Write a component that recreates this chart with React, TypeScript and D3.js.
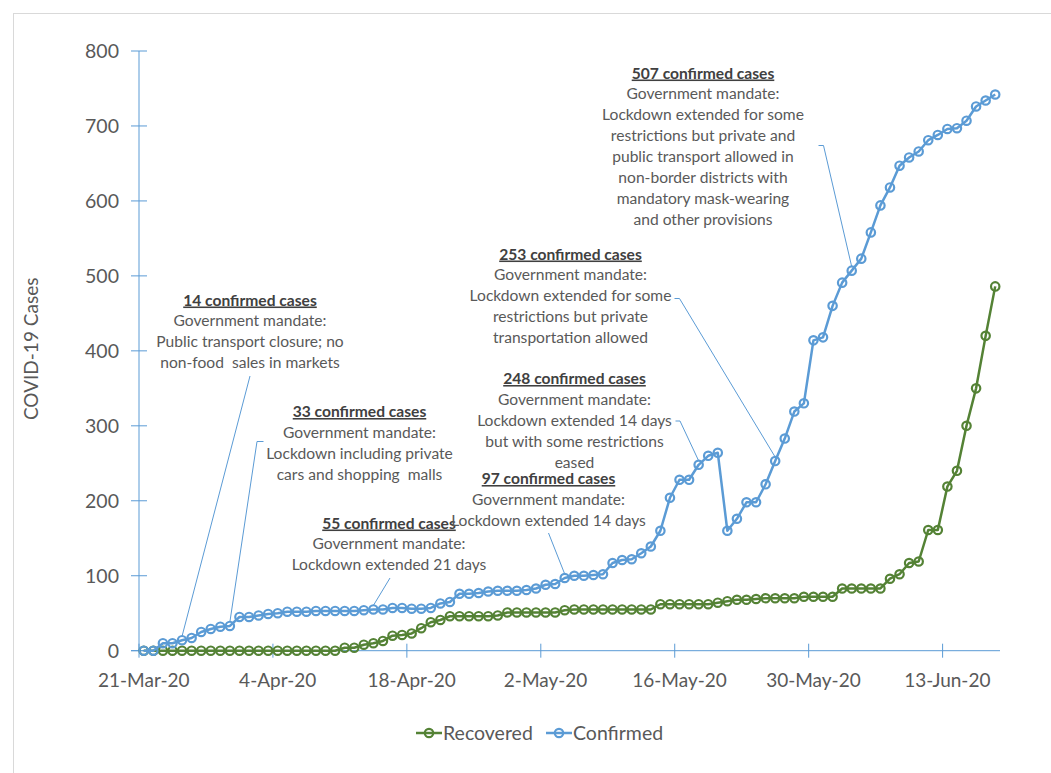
import React from 'react';
import * as d3 from 'd3';

// ---------- data ----------
const START_DATE = '2020-03-21';
const DAY_COUNT = 90;
const TICK_EVERY = 14;

const seriesNames = ['Recovered', 'Confirmed'];

const confirmed = [
  0, 0, 10, 10, 14, 17, 25, 29, 32, 33,
  45, 45, 47, 49, 50, 52, 52, 52, 53, 53,
  53, 53, 53, 54, 55, 55, 57, 57, 56, 56,
  57, 63, 65, 76, 76, 77, 79, 80, 80, 80,
  81, 83, 88, 89, 97, 100, 100, 101, 102, 117,
  121, 122, 130, 139, 160, 204, 228, 228, 248, 260,
  264, 160, 176, 198, 198, 222, 253, 283, 319, 330,
  414, 418, 460, 491, 507, 523, 558, 594, 618, 647,
  658, 666, 681, 688, 696, 697, 707, 726, 734, 742,
];

const recovered = [
  0, 0, 0, 0, 0, 0, 0, 0, 0, 0,
  0, 0, 0, 0, 0, 0, 0, 0, 0, 0,
  0, 4, 4, 8, 10, 13, 20, 21, 23, 30,
  38, 41, 46, 46, 46, 46, 46, 47, 51, 51,
  51, 51, 51, 51, 54, 55, 55, 55, 55, 55,
  55, 55, 55, 55, 62, 62, 62, 62, 62, 62,
  64, 66, 68, 68, 69, 70, 70, 70, 70, 72,
  72, 72, 72, 83, 83, 83, 83, 83, 96, 102,
  117, 119, 161, 161, 219, 240, 300, 350, 420, 486,
];

const yTicks = [0, 100, 200, 300, 400, 500, 600, 700, 800];
const yTitle = 'COVID-19 Cases';

const annHeaders = [
  '14 confirmed cases',
  '33 confirmed cases',
  '55 confirmed cases',
  '97 confirmed cases',
  '248 confirmed cases',
  '253 confirmed cases',
  '507 confirmed cases',
];
const annBodies = [
  ['Government mandate:', 'Public transport closure; no', 'non-food  sales in markets'],
  ['Government mandate:', 'Lockdown including private', 'cars and shopping  malls'],
  ['Government mandate:', 'Lockdown extended 21 days'],
  ['Government mandate:', 'Lockdown extended 14 days'],
  ['Government mandate:', 'Lockdown extended 14 days', 'but with some restrictions', 'eased'],
  ['Government mandate:', 'Lockdown extended for some', 'restrictions but private', 'transportation allowed'],
  ['Government mandate:', 'Lockdown extended for some', 'restrictions but private and', 'public transport allowed in', 'non-border districts with', 'mandatory mask-wearing', 'and other provisions'],
];
const annDays = [4, 9, 24, 44, 58, 66, 74];

// ---------- layout (pixels) ----------
const W = 1051;
const H = 773;
const PLOT = { left: 139, right: 1000, top: 51, bottom: 650.7 };
// text centre x, header baseline y, leader start [x,y], optional elbow x
const annLayout = [
  { cx: 250, by: 305.5, start: [250, 376], elbow: null },
  { cx: 359.5, by: 417, start: [263.5, 441.5], elbow: 257 },
  { cx: 389, by: 528.5, start: [390, 578], elbow: null },
  { cx: 548.5, by: 484, start: [548.5, 533], elbow: null },
  { cx: 574.5, by: 384, start: [675.5, 421], elbow: 680 },
  { cx: 570.5, by: 259.5, start: [674.5, 298.5], elbow: 679.5 },
  { cx: 703, by: 78.5, start: [818.5, 145.5], elbow: 823.5 },
];

const BLUE = '#5B9BD5';
const GREEN = '#548235';
const TEXT = '#595959';
const FONT = 'Lato, "Open Sans", sans-serif';

export default function App() {
  const parse = d3.timeParse('%Y-%m-%d');
  const start = parse(START_DATE) as Date;
  const dates = d3.timeDay.range(start, d3.timeDay.offset(start, DAY_COUNT));
  const fmt = d3.timeFormat('%-d-%b-%y');

  const x = d3
    .scaleBand<number>()
    .domain(d3.range(dates.length))
    .range([PLOT.left, PLOT.right])
    .padding(0);
  const bw = x.bandwidth();
  const cx = (i: number) => (x(i) as number) + bw / 2;
  const y = d3.scaleLinear().domain([0, 800]).range([PLOT.bottom, PLOT.top]);

  const line = d3
    .line<number>()
    .x((_, i) => cx(i))
    .y((d) => y(d));

  const xTickIdx = d3.range(0, dates.length, TICK_EVERY);
  const series = [
    { name: seriesNames[0], values: recovered, color: GREEN },
    { name: seriesNames[1], values: confirmed, color: BLUE },
  ];

  const lh = 20.9;

  return (
    <svg
      width={W}
      height={H}
      style={{ position: 'absolute', left: 0, top: 0, background: '#fff' }}
      fontFamily={FONT}
    >
      <rect x={13.5} y={13.5} width={W + 20} height={H + 20} fill="#fff" stroke="#d9d9d9" strokeWidth={1} />

      {/* y axis */}
      <line x1={PLOT.left} x2={PLOT.left} y1={y(800)} y2={y(0)} stroke={BLUE} strokeWidth={1} />
      {yTicks.map((t) => (
        <g key={t}>
          <line x1={PLOT.left - 8} x2={PLOT.left + 8} y1={y(t)} y2={y(t)} stroke={BLUE} strokeWidth={1} />
          <text x={119} y={y(t)} dy="0.35em" textAnchor="end" fontSize={19.5} fill={TEXT}>
            {t}
          </text>
        </g>
      ))}
      <text
        transform={`translate(31,${(PLOT.top + PLOT.bottom) / 2 - 2}) rotate(-90)`}
        textAnchor="middle"
        dy="0.35em"
        fontSize={19}
        fill={TEXT}
      >
        {yTitle}
      </text>

      {/* x axis */}
      <line x1={PLOT.left - 8} x2={PLOT.right} y1={y(0)} y2={y(0)} stroke={BLUE} strokeWidth={1} />
      {xTickIdx.map((i) => (
        <g key={i}>
          <line x1={x(i)} x2={x(i)} y1={y(0) - 7} y2={y(0) + 7} stroke={BLUE} strokeWidth={1} />
          <text x={cx(i)} y={y(0) + 36} textAnchor="middle" fontSize={19} fill={TEXT}>
            {fmt(dates[i])}
          </text>
        </g>
      ))}

      {/* annotations */}
      {annHeaders.map((h, k) => {
        const L = annLayout[k];
        const d = annDays[k];
        const px = cx(d);
        const py = y(confirmed[d]) - 4;
        const pts = L.elbow !== null
          ? `${L.start[0]},${L.start[1]} ${L.elbow},${L.start[1]} ${px},${py}`
          : `${L.start[0]},${L.start[1]} ${px},${py}`;
        return (
          <g key={k}>
            <polyline points={pts} fill="none" stroke={BLUE} strokeWidth={1} />
            <text x={L.cx} y={L.by} textAnchor="middle" fontSize={15.6} fontWeight="bold" fill="#404040" textDecoration="underline">
              {h}
            </text>
            {annBodies[k].map((t, j) => (
              <text key={j} x={L.cx} y={L.by + lh * (j + 1)} textAnchor="middle" fontSize={15.6} fill={TEXT} style={{ whiteSpace: 'pre' }}>
                {t}
              </text>
            ))}
          </g>
        );
      })}

      {/* series */}
      {series.map((s) => (
        <g key={s.name}>
          <path d={line(s.values) as string} fill="none" stroke={s.color} strokeWidth={2.5} strokeLinejoin="round" />
          {s.values.map((v, i) => (
            <circle key={i} cx={cx(i)} cy={y(v)} r={4.2} fill="none" stroke={s.color} strokeWidth={2.2} />
          ))}
        </g>
      ))}

      {/* legend */}
      {series.map((s, k) => {
        const lx = k === 0 ? 416 : 546;
        const ly = 733;
        return (
          <g key={s.name}>
            <line x1={lx} x2={lx + 26} y1={ly} y2={ly} stroke={s.color} strokeWidth={2.5} />
            <circle cx={lx + 13} cy={ly} r={4.2} fill="none" stroke={s.color} strokeWidth={2.2} />
            <text x={lx + 27} y={ly} dy="0.35em" fontSize={19.5} fill={TEXT}>
              {s.name}
            </text>
          </g>
        );
      })}
    </svg>
  );
}
